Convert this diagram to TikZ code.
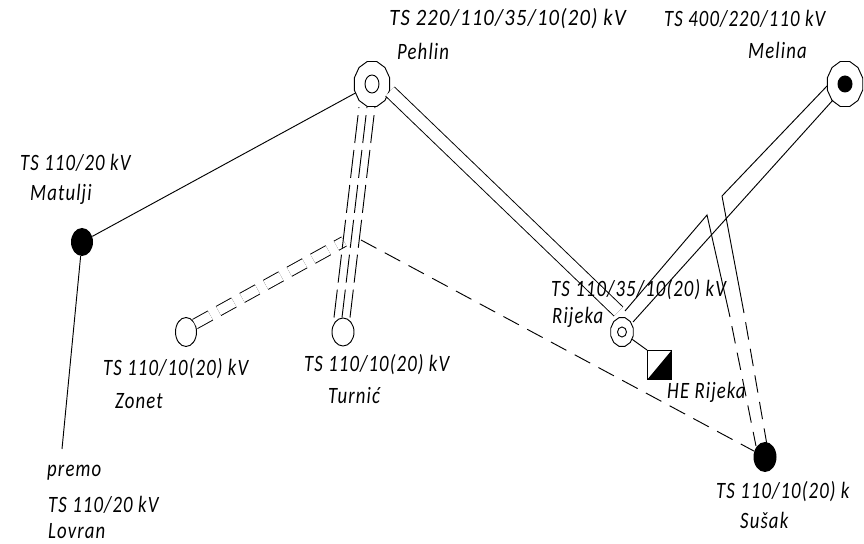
\documentclass[tikz,border=0pt]{standalone}
\usepackage{fontspec}
\usetikzlibrary{shapes.geometric}
\newfontfamily\lblfont[LetterSpace=6]{Carlito}

\tikzset{
  wire/.style={black, line width=0.8pt},
  dashwire/.style={wire, dash pattern=on 15pt off 8pt},
  longdash/.style={wire, dash pattern=on 24pt off 6pt},
  bus/.style={wire, double, double distance=#1},
  lbl/.style={font=\lblfont\itshape\fontsize{16}{16}\selectfont, anchor=west, inner sep=0pt, yscale=1.25, transform shape},
  octa/.style={draw=black, line width=0.8pt, regular polygon, regular polygon sides=12, minimum size=#1, inner sep=0pt, yscale=1.27, transform shape},
  ring/.style 2 args={draw=black, line width=0.8pt, ellipse, minimum width=#1, minimum height=#2, inner sep=0pt},
  dot/.style 2 args={fill=black, ellipse, minimum width=#1, minimum height=#2, inner sep=0pt}
}

\begin{document}
\begin{tikzpicture}[x=0.03cm, y=-0.03cm]

  \clip (0,0) rectangle (864,544);

  % stations
  \node[octa=1.1cm] (pehlin) at (372,84) {};
  \node[ring={0.42cm}{0.54cm}] (pehlinin) at (372,84) {};
  \node[octa=1.1cm] (melina) at (845,84) {};
  \node[dot={0.45cm}{0.51cm}] (melinain) at (845,84) {};
  \node[octa=0.7cm] (rijeka) at (622,332) {};
  \node[ring={0.27cm}{0.3cm}] (rijekain) at (622,332) {};
  \node[dot={0.66cm}{0.84cm}] (matulji) at (82,242) {};
  \node[dot={0.69cm}{0.9cm}] (susak) at (765,457) {};
  \node[ring={0.63cm}{0.87cm}] (zonet) at (186,332) {};
  \node[ring={0.66cm}{0.84cm}] (turnic) at (343,332) {};

  % HE block, half filled
  \node[draw=black, line width=0.8pt, inner sep=0pt, anchor=north west, minimum width=0.72cm, minimum height=0.87cm] (he) at (647,350) {};
  \fill[black] (he.north east) -- (he.south east) -- (he.south west) -- cycle;

  % free ends of the lines
  \coordinate (lovranend) at (62,449);
  \coordinate (pehlinse) at (390,91.5);
  \coordinate (rijekanw) at (618.5,311.5);
  \coordinate (rijekane) at (633,322);
  \coordinate (rijekatop) at (625,311);
  \coordinate (melinaup) at (827,86);
  \coordinate (melinalow) at (833,100);
  \coordinate (cornerleft) at (707,215);
  \coordinate (cornerright) at (722,196);
  \coordinate (breakleft) at (730,317);
  \coordinate (breakright) at (744,313);
  \coordinate (susakleft) at (756,446);
  \coordinate (susakright) at (767,445);
  \coordinate (zonetend) at (195,324);
  \coordinate (junction) at (344,241.5);
  \coordinate (turn) at (361,240);

  % solid lines
  \draw[wire] (matulji) -- (pehlin);
  \draw[wire] (matulji) -- (lovranend);
  \draw[bus=10pt] (pehlinse) -- (rijekanw);
  \draw[wire] (rijekane) -- (melinalow);
  \draw[wire] (rijekatop) -- (cornerleft) -- (breakleft);
  \draw[wire] (melinaup) -- (cornerright) -- (breakright);
  \draw[wire] (rijeka) -- (he.north west);

  % planned lines
  \draw[dashwire, dash phase=15pt] (breakleft) -- (susakleft);
  \draw[dashwire, dash phase=15pt] (breakright) -- (susakright);
  \draw[dashwire] (turn) -- (susak);
  \draw[dashwire, double, double distance=8pt] (zonetend) -- (junction);
  \foreach \dx in {-8,0,8}
    \draw[longdash] ([shift={(\dx-1,0)}]turnic.north) -- ([shift={(\dx-5,0)}]pehlin.south);

  % labels
  \node[lbl, xscale=1.1] (pehlintop) at (389,19) {TS 220/110/35/10(20) kV};
  \node[lbl] (pehlinname) at (397,51) {Pehlin};
  \node[lbl] (melinatop) at (664,19) {TS 400/220/110 kV};
  \node[lbl] (melinaname) at (748,50) {Melina};
  \node[lbl] (matuljitop) at (20,163) {TS 110/20 kV};
  \node[lbl] (matuljiname) at (30,194) {Matulji};
  \node[lbl] (zonettop) at (103,369) {TS 110/10(20) kV};
  \node[lbl] (zonetname) at (115,401) {Zonet};
  \node[lbl] (turnictop) at (304,365) {TS 110/10(20) kV};
  \node[lbl] (turnicname) at (328,396) {Turnić};
  \node[lbl] (rijekatopl) at (551,290) {TS 110/35/10(20) kV};
  \node[lbl] (rijekaname) at (552,317) {Rijeka};
  \node[lbl] (hename) at (667,392) {HE Rijeka};
  \node[lbl] (premo) at (47,473) {premo};
  \node[lbl] (lovrantop) at (48,505) {TS 110/20 kV};
  \node[lbl] (lovranname) at (48,531) {Lovran};
  \node[lbl] (susaktop) at (716,492) {TS 110/10(20) k};
  \node[lbl] (susakname) at (740,520) {Sušak};

\end{tikzpicture}
\end{document}
